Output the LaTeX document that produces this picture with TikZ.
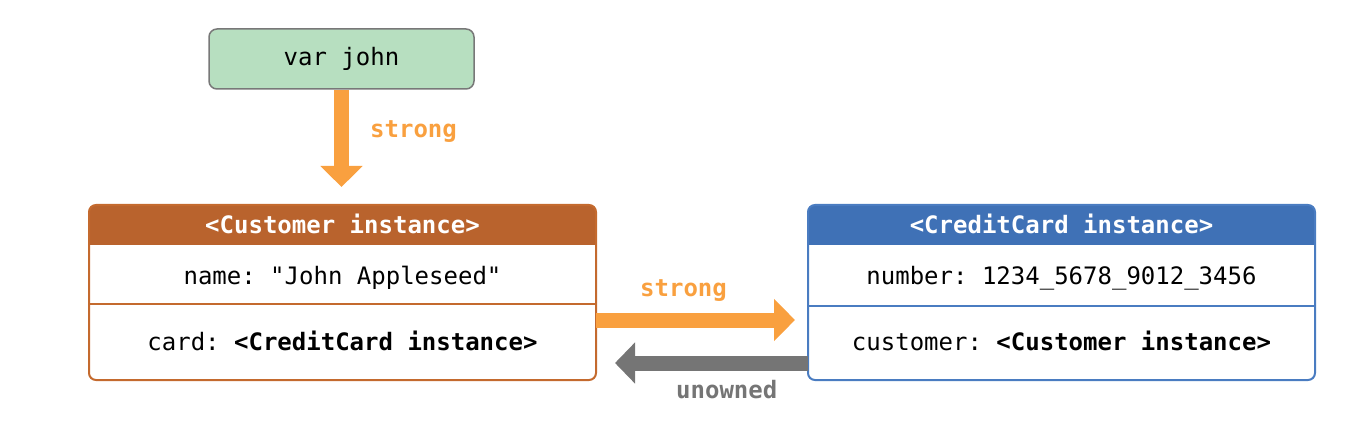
\documentclass[tikz,border=0pt]{standalone}
\usepackage{fontspec}
\setmonofont{DejaVu Sans Mono}
\usetikzlibrary{arrows.meta}
\definecolor{johnfill}{HTML}{B7DFC0}
\definecolor{johnline}{HTML}{787878}
\definecolor{custhead}{HTML}{B9632D}
\definecolor{custline}{HTML}{C46A2E}
\definecolor{cardhead}{HTML}{3F71B6}
\definecolor{cardline}{HTML}{4A7CC1}
\definecolor{strongcol}{HTML}{F9A03F}
\definecolor{weakcol}{HTML}{757575}
\tikzset{
  txt/.style={font=\ttfamily\fontsize{24}{28}\selectfont, inner sep=0pt, anchor=base},
  headtxt/.style={txt, text=white, font=\ttfamily\bfseries\fontsize{24}{28}\selectfont},
  lbl/.style={inner sep=0pt, anchor=base west, font=\ttfamily\bfseries\fontsize{24}{28}\selectfont},
  frame/.style={minimum width=507pt, minimum height=175pt, inner sep=0pt, outer sep=0pt},
  strongarrow/.style={draw=strongcol, line width=15pt, -{Triangle[width=41pt,length=21pt]}},
  weakarrow/.style={draw=weakcol, line width=15pt, -{Triangle[width=40pt,length=20pt]}},
}
\begin{document}
\begin{tikzpicture}[x=1pt,y=-1pt]
\useasboundingbox (0,0) rectangle (1366,422);
% var john
\node[draw=johnline, fill=johnfill, line width=1.5pt, rounded corners=8pt,
      minimum width=265pt, minimum height=60pt, inner sep=0pt,
      font=\ttfamily\fontsize{24}{28}\selectfont] (john) at (341.5,59) {var john};
% frames
\node[frame] (cust) at (342.5,292.5) {};
\node[frame] (card) at (1061.5,292.5) {};
% headers
\fill[custhead, rounded corners=7pt] (cust.north west) rectangle ([yshift=-40pt]cust.north east);
\fill[custhead] ([yshift=-20pt]cust.north west) rectangle ([yshift=-40pt]cust.north east);
\fill[cardhead, rounded corners=7pt] (card.north west) rectangle ([yshift=-40pt]card.north east);
\fill[cardhead] ([yshift=-20pt]card.north west) rectangle ([yshift=-40pt]card.north east);
% dividers
\coordinate (custdiv) at (0,304);
\coordinate (carddiv) at (0,306);
\draw[custline, line width=1.5pt] (cust.west |- custdiv) -- (cust.east |- custdiv);
\draw[cardline, line width=1.5pt] (card.west |- carddiv) -- (card.east |- carddiv);
% borders
\draw[custline, line width=2pt, rounded corners=7pt] (cust.south west) rectangle (cust.north east);
\draw[cardline, line width=2pt, rounded corners=7pt] (card.south west) rectangle (card.north east);
% texts
\node[headtxt] (custtitle) at (342.5,234) {<Customer instance>};
\node[txt] (custname) at (342.5,284) {name: "John Appleseed"};
\node[txt] (custcard) at (342.5,350) {card: \textbf{<CreditCard instance>}};
\node[headtxt] (cardtitle) at (1061.5,234) {<CreditCard instance>};
\node[txt] (cardnum) at (1061.5,284) {number: 1234\_5678\_9012\_3456};
\node[txt] (cardcust) at (1061.5,350) {customer: \textbf{<Customer instance>}};
% arrows
\coordinate (downEnd) at (341.5,187);
\draw[strongarrow] (john.south) -- (downEnd);
\coordinate (strongEnd) at (795,320);
\draw[strongarrow] (cust.east |- strongEnd) -- (strongEnd);
\coordinate (weakEnd) at (615,363);
\draw[weakarrow] (card.west |- weakEnd) -- (weakEnd);
% labels
\node[lbl, text=strongcol] (lbl1) at (370,138) {strong};
\node[lbl, text=strongcol] (lbl2) at (640,297) {strong};
\node[lbl, text=weakcol] (lbl3) at (676,398) {unowned};
\end{tikzpicture}
\end{document}
